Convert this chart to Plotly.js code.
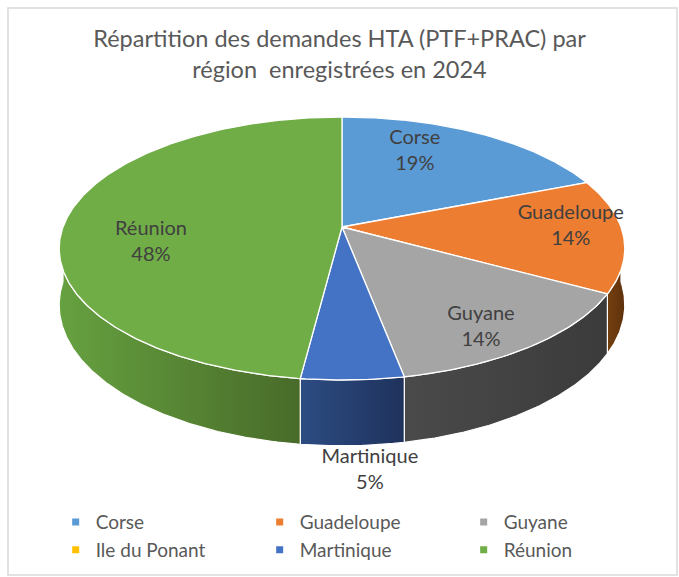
<!DOCTYPE html>
<html><head><meta charset="utf-8">
<script src="https://cdn.plot.ly/plotly-3.0.1.min.js"></script>
<style>html,body{margin:0;padding:0;background:#fff}#chart{width:679px;height:577px}</style>
</head><body><div id="chart"></div>
<script>
// ---- data ----
const categories = ['Corse', 'Guadeloupe', 'Guyane', 'Ile du Ponant', 'Martinique', 'Réunion'];
const values = [19, 14, 14, 0, 5, 48];
const titleText = 'Répartition des demandes HTA (PTF+PRAC) par<br>région\u00a0 enregistrées en 2024';

// ---- styles ----
const topColors = ['#5B9BD5', '#ED7D31', '#A5A5A5', '#FFC000', '#4472C4', '#70AD47'];
const sideColors = [['#4a7fb0', '#3d6a93'], ['#73400f', '#5f300c'], ['#4a4a4a', '#3b3b3b'],
                    ['#c99700', '#a67c00'], ['#2c4c82', '#1f325c'], ['#66a140', '#486b29']];
// label placement (angle clockwise from 12 o'clock, radius fraction, extra drop)
const labelPlacement = [
  {ang: 24, r: 0.71, dy: 0}, {ang: 90, r: 0.82, dy: 0}, {ang: 147.7, r: 0.826, dy: 0},
  {ang: 0, r: 0, dy: 0}, {ang: 175.2, r: 1, dy: 92}, {ang: 259.65, r: 0.682, dy: 0}];
// 3D pie geometry (pixel space of the axes)
const G = {cx: 342, cy: 227, A: 279, B: 128, k: 0.1635, D: 55};

function proj(deg, r) {
  const t = deg * Math.PI / 180, c = Math.cos(t), s = Math.sin(t);
  const sc = 1 / (1 + G.k * r * c);
  return [G.cx + G.A * r * s * sc, G.cy - G.B * r * c * sc, sc];
}
function arc(a0, a1, drop) {
  const pts = [];
  const n = Math.max(2, Math.ceil(Math.abs(a1 - a0) / 0.5));
  for (let i = 0; i <= n; i++) {
    const a = a0 + (a1 - a0) * i / n;
    const p = proj(a, 1);
    pts.push([p[0], p[1] + (drop ? G.D * p[2] : 0)]);
  }
  return pts;
}

const total = values.reduce((a, b) => a + b, 0);
const starts = [], ends = [];
let cum = 0;
values.forEach(v => { starts.push(cum / total * 360); cum += v; ends.push(cum / total * 360); });

const traces = [];
// side walls
values.forEach((v, i) => {
  if (v <= 0) return;
  const s0 = Math.max(starts[i], 90), s1 = Math.min(ends[i], 270);
  if (s1 <= s0) return;
  const pts = arc(s0, s1, false).concat(arc(s1, s0, true));
  pts.push(pts[0]);
  traces.push({
    x: pts.map(p => p[0]), y: pts.map(p => p[1]), mode: 'lines', fill: 'toself',
    fillcolor: sideColors[i][0],
    fillgradient: {type: 'horizontal', colorscale: [[0, sideColors[i][0]], [1, sideColors[i][1]]]},
    line: {color: '#ffffff', width: 1.2}, hoverinfo: 'skip', showlegend: false
  });
});
// top faces
values.forEach((v, i) => {
  if (v <= 0) return;
  const pts = [[G.cx, G.cy]].concat(arc(starts[i], ends[i], false));
  pts.push([G.cx, G.cy]);
  traces.push({
    x: pts.map(p => p[0]), y: pts.map(p => p[1]), mode: 'lines', fill: 'toself',
    fillcolor: topColors[i], line: {color: '#ffffff', width: 1.3},
    hoverinfo: 'skip', showlegend: false
  });
});
// data labels
const lx = [], ly = [], lt = [];
values.forEach((v, i) => {
  if (v <= 0) return;
  const lp = labelPlacement[i];
  const p = proj(lp.ang, lp.r);
  lx.push(p[0]); ly.push(p[1] + lp.dy);
  lt.push(categories[i] + '<br>' + Math.round(v / total * 100) + '%');
});
traces.push({
  x: lx, y: ly, text: lt, mode: 'text', textposition: 'middle center',
  textfont: {family: 'Lato, sans-serif', size: 20, color: '#404040'},
  hoverinfo: 'skip', showlegend: false, cliponaxis: false
});
// legend entries
categories.forEach((c, i) => {
  traces.push({
    x: [null], y: [null], name: c, mode: 'markers', type: 'scatter',
    marker: {symbol: 'square', size: 7, color: topColors[i]}, hoverinfo: 'skip'
  });
});

const layout = {
  width: 679, height: 577,
  margin: {l: 0, r: 0, t: 0, b: 0, autoexpand: false},
  paper_bgcolor: '#ffffff', plot_bgcolor: '#ffffff',
  title: {text: titleText, x: 0.5, xanchor: 'center', xref: 'paper', y: 0.918, yref: 'paper', yanchor: 'top',
          font: {family: 'Lato, sans-serif', size: 23.5, color: '#595959'}},
  xaxis: {range: [0, 679], visible: false, fixedrange: true},
  yaxis: {range: [577, 0], visible: false, fixedrange: true},
  showlegend: true,
  legend: {orientation: 'h', x: 0.082, xanchor: 'left', y: 0.128, yanchor: 'top',
           entrywidth: 159, entrywidthmode: 'pixels', traceorder: 'normal',
           font: {family: 'Lato, sans-serif', size: 19, color: '#595959'},
           bgcolor: 'rgba(0,0,0,0)', borderwidth: 0},
  shapes: [{type: 'rect', xref: 'x', yref: 'y', x0: 8, x1: 677, y0: 8, y1: 575,
            line: {color: '#d9d9d9', width: 1.5}, fillcolor: 'rgba(0,0,0,0)', layer: 'below'}]
};
Plotly.newPlot('chart', traces, layout, {staticPlot: true, displayModeBar: false});
</script>
</body></html>
